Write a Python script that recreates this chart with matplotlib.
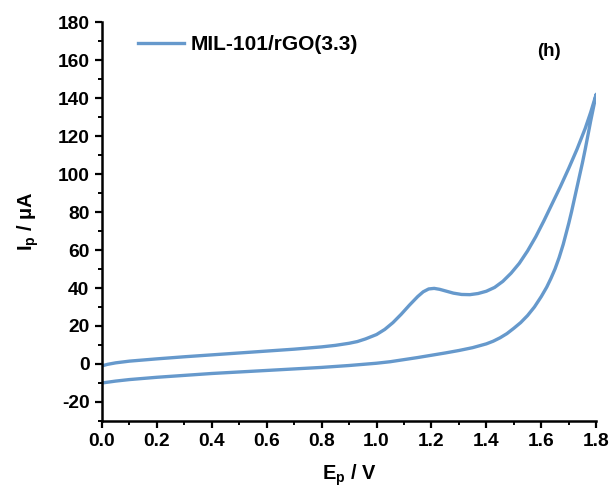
import matplotlib
matplotlib.use("Agg")
import matplotlib.pyplot as plt
from matplotlib.ticker import MultipleLocator, FormatStrFormatter

plt.rcParams['font.family'] = ['Liberation Sans', 'DejaVu Sans']
plt.rcParams['font.weight'] = 'bold'
plt.rcParams['axes.unicode_minus'] = False
plt.rcParams['mathtext.fontset'] = 'custom'
plt.rcParams['mathtext.bf'] = 'Liberation Sans:bold'
plt.rcParams['mathtext.rm'] = 'Liberation Sans:bold'
plt.rcParams['mathtext.default'] = 'bf'

# forward (anodic) scan
e_fwd = [0.0, 0.02, 0.05, 0.1, 0.15, 0.2, 0.3, 0.4, 0.5, 0.6, 0.7, 0.8, 0.85,
         0.9, 0.93, 0.96, 1.0, 1.03, 1.06, 1.09, 1.12, 1.15, 1.17, 1.19, 1.21,
         1.23, 1.25, 1.28, 1.31, 1.34, 1.37, 1.4, 1.43, 1.46, 1.49, 1.52, 1.55,
         1.58, 1.61, 1.64, 1.67, 1.7, 1.73, 1.76, 1.78, 1.8]
i_fwd = [-1, -0.2, 0.6, 1.5, 2.1, 2.7, 3.8, 4.8, 5.8, 6.8, 7.8, 9.0, 9.8,
         10.9, 11.8, 13.2, 15.5, 18.2, 21.8, 26.2, 31, 35.5, 38, 39.5, 39.8,
         39.3, 38.5, 37.3, 36.6, 36.5, 37.1, 38.3, 40.3, 43.5, 47.8, 53, 59.5,
         67, 75.5, 84.5, 93.5, 103, 113, 124, 132.5, 142]
# reverse scan
e_rev = [1.8, 1.79, 1.78, 1.77, 1.76, 1.75, 1.74, 1.73, 1.72, 1.71, 1.7, 1.69,
         1.68, 1.665, 1.65, 1.635, 1.62, 1.6, 1.575, 1.55, 1.525, 1.5, 1.475,
         1.45, 1.425, 1.4, 1.35, 1.3, 1.25, 1.2, 1.15, 1.1, 1.05, 1.0, 0.95,
         0.9, 0.8, 0.7, 0.6, 0.5, 0.4, 0.3, 0.2, 0.1, 0.05, 0.0]
i_rev = [142, 135, 128, 120.5, 113, 106, 99.5, 93, 86.5, 80, 74, 68.5,
         63, 56, 50, 45, 40.5, 35.5, 30, 25.5, 21.8, 18.8, 16,
         13.8, 12, 10.6, 8.6, 7.1, 5.8, 4.6, 3.4, 2.3, 1.2, 0.4, -0.2,
         -0.8, -1.8, -2.6, -3.4, -4.2, -5.0, -6.0, -7.0, -8.2, -9.0, -10]

label = 'MIL-101/rGO(3.3)'

fig = plt.figure(figsize=(6.14, 4.91), dpi=100)
ax = fig.add_axes([0.166, 0.1426, 0.805, 0.8125])

ax.plot(e_fwd + e_rev, i_fwd + i_rev, color='#6699cc', lw=2.4,
        solid_joinstyle='round', label=label)

ax.set_xlim(0, 1.8)
ax.set_ylim(-30, 180)
ax.xaxis.set_major_locator(MultipleLocator(0.2))
ax.xaxis.set_minor_locator(MultipleLocator(0.1))
ax.yaxis.set_major_locator(MultipleLocator(20))
ax.yaxis.set_minor_locator(MultipleLocator(10))
ax.xaxis.set_major_formatter(FormatStrFormatter('%.1f'))

for s in ['top', 'right']:
    ax.spines[s].set_visible(False)
for s in ['left', 'bottom']:
    ax.spines[s].set_linewidth(1.8)

ax.tick_params(which='major', direction='out', length=5, width=1.6, labelsize=13.8, pad=4)
ax.tick_params(which='minor', direction='out', length=3, width=1.4)

ax.set_xlabel('E$_p$ / V', fontsize=14.4, fontweight='bold', labelpad=9)
ax.set_ylabel('I$_p$ / μA', fontsize=14.4, fontweight='bold', labelpad=12)

ax.legend(loc='upper left', bbox_to_anchor=(0.035, 1.015), frameon=False,
          handlelength=2.2, handletextpad=0.35,
          prop={'weight': 'bold', 'size': 15})
ax.text(0.905, 0.925, '(h)', transform=ax.transAxes, fontsize=13.5,
        fontweight='bold', ha='center', va='center')

fig.savefig('out.png', dpi=100)
